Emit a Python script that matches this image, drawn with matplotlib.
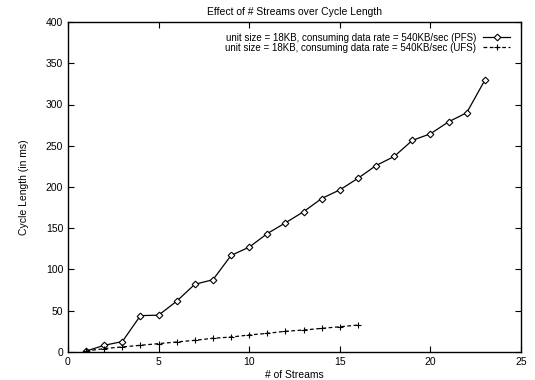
import matplotlib
matplotlib.use("Agg")
import matplotlib.pyplot as plt

plt.rcParams['font.family'] = ['Liberation Sans', 'DejaVu Sans']

# numero de streams e tempo de ciclo (ms)
streams_pfs = list(range(1, 24))
cycle_pfs = [1, 8, 12.5, 44, 44.5, 61.5, 82, 87.5, 117, 127, 143.5, 156.5, 170,
             186, 196.5, 210.5, 226, 237, 256.5, 264.5, 279, 290, 329.5]
streams_ufs = list(range(1, 17))
cycle_ufs = [1, 4, 6, 8, 10, 12, 14, 16.5, 18, 20.5, 22.5, 25, 26.5, 28.5, 30.5, 32.5]

label_pfs = "unit size = 18KB, consuming data rate = 540KB/sec (PFS)"
label_ufs = "unit size = 18KB, consuming data rate = 540KB/sec (UFS)"

fig = plt.figure(figsize=(5.35, 3.8), dpi=100)
ax = fig.add_axes([0.127, 0.074, 0.847, 0.868])

ax.plot(streams_pfs, cycle_pfs, color='black', linewidth=0.9, marker='D',
        markersize=3.4, markerfacecolor='white', markeredgewidth=0.8, label=label_pfs)
ax.plot(streams_ufs, cycle_ufs, color='black', linewidth=0.9, linestyle=(0, (3, 2)),
        marker='+', markersize=4.5, markeredgewidth=0.8, label=label_ufs)

ax.set_xlim(0, 25)
ax.set_ylim(0, 400)
ax.set_xticks(range(0, 26, 5))
ax.set_yticks(range(0, 401, 50))
ax.tick_params(direction='in', top=True, right=True, labelsize=7.5, length=4, width=0.8)
for s in ax.spines.values():
    s.set_linewidth(1.0)

ax.set_xlabel("# of Streams", fontsize=7.5, labelpad=2)
ax.set_ylabel("Cycle Length (in ms)", fontsize=7.5, labelpad=12)
ax.set_title("Effect of # Streams over Cycle Length", fontsize=7.5, pad=5)

leg = ax.legend(loc='upper right', frameon=False, markerfirst=False, fontsize=7,
                handlelength=2.8, handletextpad=0.7, labelspacing=0.0,
                borderaxespad=0.7, numpoints=1)

plt.savefig("out.png", dpi=100)
